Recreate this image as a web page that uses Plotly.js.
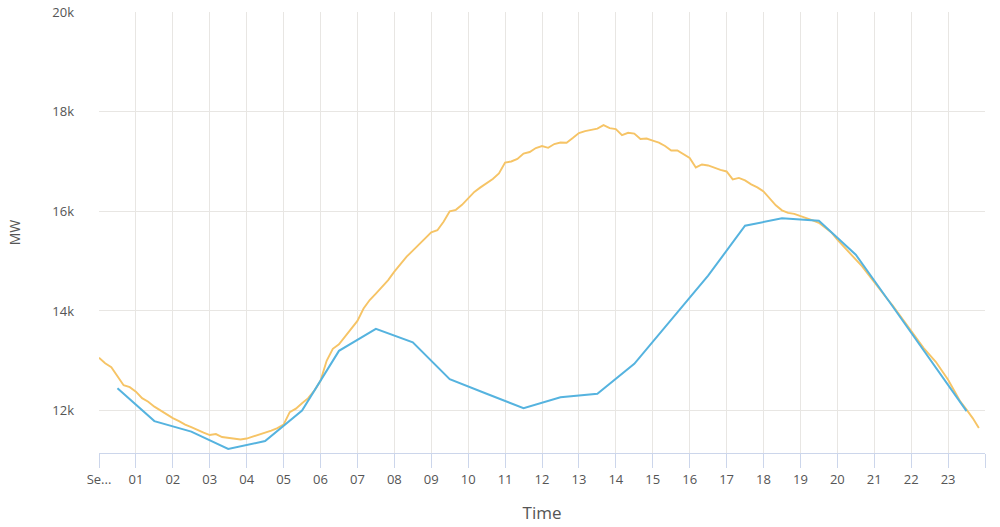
<!DOCTYPE html>
<html>
<head>
<meta charset="utf-8">
<script src="https://cdn.plot.ly/plotly-3.0.1.min.js"></script>
<style>
    html, body { margin: 0; padding: 0; background: #fff; }
    #chart { width: 1000px; height: 527px; }
</style>
</head>
<body>
<div id="chart"></div>
<script>
// Demand over one day: 10-minute actuals (orange) and hourly values (blue)

const tickHours = [0, 1, 2, 3, 4, 5, 6, 7, 8, 9, 10, 11, 12, 13, 14, 15, 16, 17, 18, 19, 20, 21, 22, 23, 24];
const tickLabels = ["Se...", "01", "02", "03", "04", "05", "06", "07", "08", "09", "10", "11",
    "12", "13", "14", "15", "16", "17", "18", "19", "20", "21", "22", "23", ""];

const yTicks = [12000, 14000, 16000, 18000, 20000];
const yTickLabels = ["12k", "14k", "16k", "18k", "20k"];

// one value every 10 minutes from 00:00 to 23:50
const actualMW = [
    13060, 12950, 12870, 12700, 12510, 12470,   // 00
    12380, 12250, 12180, 12080, 12000, 11930,   // 01
    11850, 11790, 11720, 11670, 11610, 11560,   // 02
    11510, 11530, 11470, 11455, 11440, 11420,   // 03
    11440, 11480, 11510, 11550, 11600, 11650,   // 04
    11720, 11970, 12040, 12150, 12250, 12400,   // 05
    12600, 13000, 13240, 13330, 13480, 13650,   // 06
    13800, 14050, 14220, 14350, 14480, 14620,   // 07
    14790, 14950, 15090, 15210, 15340, 15470,   // 08
    15580, 15620, 15790, 16000, 16030, 16130,   // 09
    16260, 16390, 16480, 16560, 16650, 16760,   // 10
    16980, 17000, 17050, 17160, 17190, 17270,   // 11
    17310, 17275, 17350, 17380, 17375, 17470,   // 12
    17570, 17610, 17630, 17660, 17730, 17670,   // 13
    17650, 17530, 17575, 17560, 17450, 17460,   // 14
    17420, 17380, 17310, 17220, 17220, 17140,   // 15
    17070, 16880, 16940, 16920, 16870, 16830,   // 16
    16800, 16640, 16670, 16620, 16540, 16480,   // 17
    16400, 16260, 16120, 16020, 15970, 15950,   // 18
    15910, 15870, 15820, 15770, 15680, 15580,   // 19
    15430, 15300, 15180, 15040, 14900, 14740,   // 20
    14580, 14400, 14260, 14110, 13940, 13770,   // 21
    13580, 13430, 13260, 13120, 12980, 12800,   // 22
    12620, 12400, 12180, 12020, 11850, 11650,   // 23
];
const actualHours = actualMW.map((_, i) => i / 6);

// hourly values plotted at the half hour
const hourlyHours = [0.5, 1.5, 2.5, 3.5, 4.5, 5.5, 6.5, 7.5, 8.5, 9.5, 10.5, 11.5,
    12.5, 13.5, 14.5, 15.5, 16.5, 17.5, 18.5, 19.5, 20.5, 21.5, 22.5, 23.5];
const hourlyMW = [12450, 11790, 11580, 11230, 11390, 12000, 13200, 13640, 13370, 12630, 12340, 12050,
    12270, 12340, 12940, 13820, 14710, 15710, 15860, 15810, 15130, 14090, 13030, 11990];

const FONT = "Open Sans, DejaVu Sans, sans-serif";

const traces = [
    {
        x: actualHours, y: actualMW,
        type: "scatter", mode: "lines",
        line: { color: "#f6c466", width: 1.9 },
        name: "Actual", showlegend: false,
    },
    {
        x: hourlyHours, y: hourlyMW,
        type: "scatter", mode: "lines",
        line: { color: "#55b3df", width: 2 },
        name: "Hourly", showlegend: false,
    },
];

const layout = {
    width: 1000,
    height: 527,
    paper_bgcolor: "#fff",
    plot_bgcolor: "#fff",
    font: { family: FONT, color: "#555", size: 12 },
    margin: { l: 99, r: 15, t: 12, b: 74 },
    showlegend: false,
    xaxis: {
        range: [0, 24],
        tickvals: tickHours,
        ticktext: tickLabels,
        ticks: "outside",
        ticklen: 14,
        tickwidth: 1,
        tickcolor: "#ccd6eb",
        showgrid: true,
        gridcolor: "#e8e6e3",
        gridwidth: 1,
        zeroline: false,
        showline: true,
        linecolor: "#ccd6eb",
        linewidth: 1,
        tickfont: { size: 13, color: "#555" },
        title: { text: "Time", font: { size: 17, color: "#555" }, standoff: 20 },
    },
    yaxis: {
        range: [11150, 20000],
        tickvals: yTicks,
        ticktext: yTickLabels,
        ticks: "",
        ticklabelstandoff: 24,
        showgrid: true,
        gridcolor: "#e8e6e3",
        gridwidth: 1,
        zeroline: false,
        showline: false,
        tickfont: { size: 13, color: "#555" },
        title: { text: "MW", font: { size: 14, color: "#555" }, standoff: 28 },
    },
};

Plotly.newPlot("chart", traces, layout, { displayModeBar: false, staticPlot: true });
</script>
</body>
</html>
